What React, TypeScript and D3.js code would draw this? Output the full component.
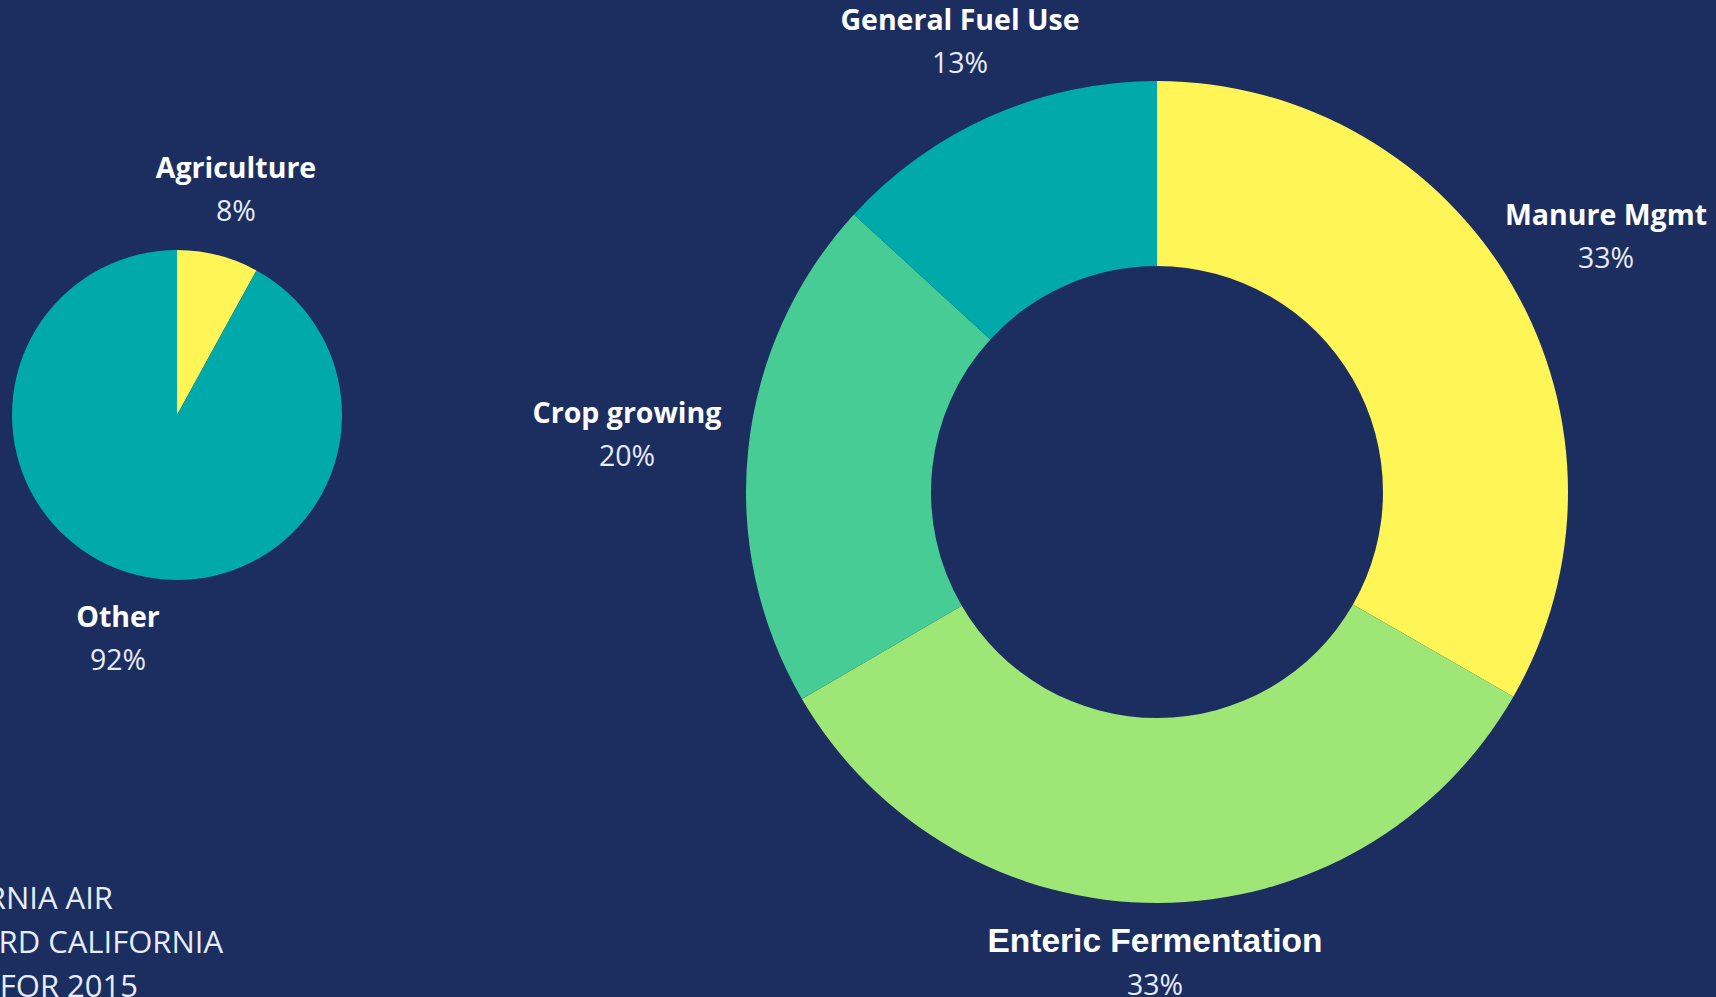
import React, { useEffect, useRef } from 'react';
import * as d3 from 'd3';

// share of total emissions
const totalLabels = ['Agriculture', 'Other'];
const totalValues = [8, 92];
const totalColors = ['#fff556', '#00aaaa'];

// agriculture breakdown
const agLabels = ['Manure Mgmt', 'Enteric Fermentation', 'Crop growing', 'General Fuel Use'];
const agValues = [33.3, 33.3, 20.2, 13.2];
const agColors = ['#fff556', '#9ee776', '#47cc96', '#00aaaa'];

const sourceLines = ['SOURCE: CALIFORNIA AIR', 'RESOURCES BOARD CALIFORNIA', 'GHG INVENTORY FOR 2015'];

const W = 1716;
const H = 997;
const BG = '#1c2e60';

const App: React.FC = () => {
  const svgRef = useRef<SVGSVGElement>(null);

  useEffect(() => {
    if (!svgRef.current) return;
    const svg = d3.select(svgRef.current);
    svg.selectAll('*').remove();

    svg.append('rect').attr('width', W).attr('height', H).attr('fill', BG);

    const pie = d3.pie<number>().sort(null).value(d => d);

    // 小饼图
    const small = svg.append('g').attr('transform', 'translate(177,415)');
    const smallArc = d3.arc<d3.PieArcDatum<number>>().innerRadius(0).outerRadius(165);
    small.selectAll('path')
      .data(pie(totalValues))
      .enter()
      .append('path')
      .attr('d', smallArc)
      .attr('fill', (d, i) => totalColors[i]);

    // 大环形图
    const big = svg.append('g').attr('transform', 'translate(1157,492)');
    const bigArc = d3.arc<d3.PieArcDatum<number>>().innerRadius(226).outerRadius(411);
    big.selectAll('path')
      .data(pie(agValues))
      .enter()
      .append('path')
      .attr('d', bigArc)
      .attr('fill', (d, i) => agColors[i]);

    // labels
    const labels = [
      { name: totalLabels[0], v: totalValues[0], x: 236, y: 178, font: '"Open Sans"' },
      { name: totalLabels[1], v: totalValues[1], x: 118, y: 627, font: '"Open Sans"' },
      { name: agLabels[0], v: agValues[0], x: 1606, y: 225, font: '"Open Sans"' },
      { name: agLabels[1], v: agValues[1], x: 1155, y: 952, font: '"Liberation Sans"' },
      { name: agLabels[2], v: agValues[2], x: 627, y: 423, font: '"Open Sans"' },
      { name: agLabels[3], v: agValues[3], x: 960, y: 30, font: '"Open Sans"' }
    ];

    labels.forEach(l => {
      svg.append('text')
        .attr('x', l.x)
        .attr('y', l.y)
        .attr('text-anchor', 'middle')
        .attr('fill', '#ffffff')
        .style('font-family', l.font)
        .style('font-weight', 700)
        .style('font-size', l.font.includes('Liberation') ? '33.5px' : '28.5px')
        .text(l.name);
      svg.append('text')
        .attr('x', l.x)
        .attr('y', l.y + 43)
        .attr('text-anchor', 'middle')
        .attr('fill', '#e6ecf8')
        .style('font-family', '"Open Sans"')
        .style('font-weight', 400)
        .style('font-size', '28.5px')
        .text(`${Math.round(l.v)}%`);
    });

    // 来源文字（左侧被裁切）
    const ends = [113, 223, 138];
    sourceLines.forEach((t, i) => {
      svg.append('text')
        .attr('x', ends[i])
        .attr('y', 909 + i * 44)
        .attr('text-anchor', 'end')
        .attr('fill', '#e6ecf8')
        .style('font-family', '"Open Sans"')
        .style('font-weight', 400)
        .style('font-size', '31px')
        .text(t);
    });
  }, []);

  return (
    <div style={{ position: 'fixed', left: 0, top: 0, width: W, height: H, overflow: 'hidden', background: BG }}>
      <svg ref={svgRef} width={W} height={H} style={{ display: 'block' }} />
    </div>
  );
};

export default App;
